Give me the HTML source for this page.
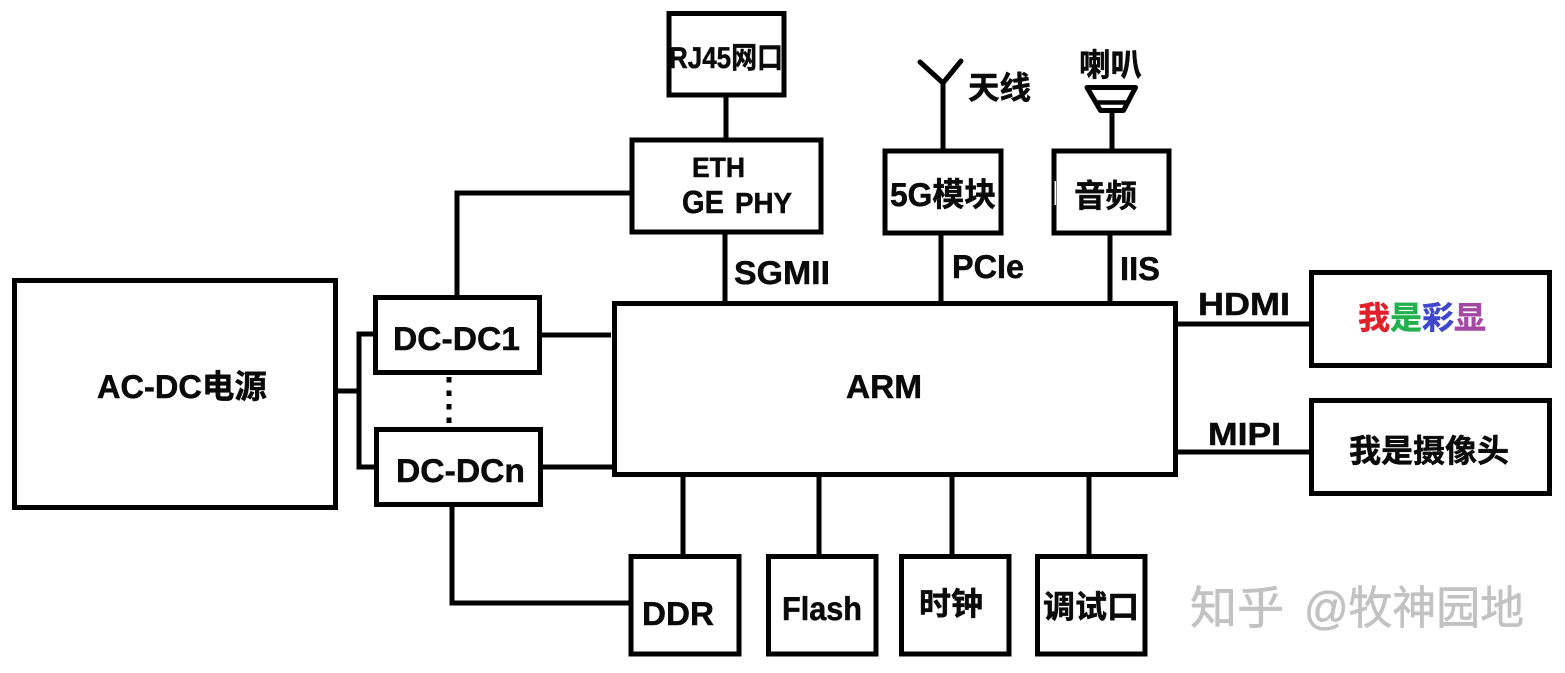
<!DOCTYPE html>
<html><head><meta charset="utf-8"><style>
html,body{margin:0;padding:0;background:#fff;width:1565px;height:673px;overflow:hidden}
svg{display:block}
text{font-family:"Liberation Sans","Noto Sans CJK SC",sans-serif;font-weight:700;fill:#0a0a0a;stroke:#0a0a0a;stroke-width:.5;text-rendering:geometricPrecision}
.b{fill:none;stroke:#000;stroke-width:5}
.l{fill:none;stroke:#000;stroke-width:5}
</style></head><body>
<svg width="1565" height="673" viewBox="0 0 1565 673" xmlns="http://www.w3.org/2000/svg">
<rect width="1565" height="673" fill="#fff"/>
<rect class="b" x="14.500" y="280.500" width="321" height="227"/>
<rect class="b" x="375.500" y="297.500" width="164" height="75"/>
<rect class="b" x="376.500" y="429.500" width="164" height="75"/>
<rect class="b" x="614.500" y="303.500" width="561" height="171"/>
<rect class="b" x="669" y="13.500" width="115" height="81.500"/>
<rect class="b" x="632" y="140" width="189" height="92"/>
<rect class="b" x="885" y="151" width="116" height="82"/>
<rect class="b" x="1054" y="151" width="115" height="82"/>
<rect x="1054.500" y="181" width="1.500" height="24" fill="#fff"/>
<rect class="b" x="1311.500" y="272.500" width="238" height="93"/>
<rect class="b" x="1311.500" y="400.500" width="238" height="93"/>
<rect class="b" x="631" y="556.500" width="108" height="97.500"/>
<rect class="b" x="768.500" y="556.500" width="107.500" height="97.500"/>
<rect class="b" x="901.500" y="556.500" width="107.500" height="97.500"/>
<rect class="b" x="1037.500" y="556.500" width="107.500" height="97.500"/>
<path class="l" d="M335 391H359M375 334H359V467H375"/>
<path class="l" d="M457 297V193H631"/>
<path class="l" d="M452 505V603H630"/>
<path class="l" d="M542 335H611M543 467H613"/>
<path d="M449 377V424" fill="none" stroke="#000" stroke-width="5" stroke-dasharray="5.500 8"/>
<path class="l" d="M726 96V139M725 233V303M941 234V303M1110 234V303"/>
<path class="l" d="M1176 324H1310M1176 452H1310"/>
<path class="l" d="M683 476V555M819 476V555M952 476V555M1089 476V555"/>
<path class="l" d="M920 62L943 83L961 61M943 83V150" stroke-linecap="round" stroke-linejoin="miter"/>
<path d="M1087 87.500H1135.500L1123.500 110.500H1100.500Z" fill="none" stroke="#000" stroke-width="5" stroke-linejoin="round"/>
<path d="M1096 102.500H1128" fill="none" stroke="#000" stroke-width="4.500"/>
<path class="l" d="M1112 111V150"/>

<text x="97" y="398" font-size="33" textLength="170" lengthAdjust="spacingAndGlyphs">AC-DC电源</text>
<text x="846" y="398" font-size="33" textLength="76" lengthAdjust="spacingAndGlyphs">ARM</text>
<text x="393" y="350" font-size="33" textLength="127" lengthAdjust="spacingAndGlyphs">DC-DC1</text>
<text x="396" y="482" font-size="33" textLength="129" lengthAdjust="spacingAndGlyphs">DC-DCn</text>
<text x="669" y="68" font-size="30" textLength="114" lengthAdjust="spacingAndGlyphs">RJ45网口</text>
<text x="692" y="177" font-size="28" textLength="53" lengthAdjust="spacingAndGlyphs">ETH</text>
<text x="682" y="213" font-size="32" textLength="42" lengthAdjust="spacingAndGlyphs">GE</text>
<text x="735" y="213" font-size="29" textLength="57" lengthAdjust="spacingAndGlyphs">PHY</text>
<text x="890" y="206" font-size="33" textLength="106" lengthAdjust="spacingAndGlyphs">5G模块</text>
<text x="1074" y="207" font-size="32" textLength="63" lengthAdjust="spacingAndGlyphs">音频</text>
<text x="968" y="99" font-size="32" textLength="63" lengthAdjust="spacingAndGlyphs">天线</text>
<text x="1079" y="76" font-size="32" textLength="63" lengthAdjust="spacingAndGlyphs">喇叭</text>
<text x="734" y="284" font-size="33" textLength="96" lengthAdjust="spacingAndGlyphs">SGMII</text>
<text x="952" y="278" font-size="33" textLength="72" lengthAdjust="spacingAndGlyphs">PCIe</text>
<text x="1120" y="280" font-size="33" textLength="40" lengthAdjust="spacingAndGlyphs">IIS</text>
<text x="1198" y="315" font-size="32" textLength="92" lengthAdjust="spacingAndGlyphs">HDMI</text>
<text x="1208" y="445" font-size="32" textLength="73" lengthAdjust="spacingAndGlyphs">MIPI</text>
<text x="1358" y="329" font-size="32" style="fill:#e0202a;stroke:#e0202a">我</text>
<text x="1390" y="329" font-size="32" style="fill:#22b14c;stroke:#22b14c">是</text>
<text x="1422" y="329" font-size="32" style="fill:#3f48cc;stroke:#3f48cc">彩</text>
<text x="1454" y="329" font-size="32" style="fill:#a349a4;stroke:#a349a4">显</text>
<text x="1349" y="462" font-size="32" textLength="160" lengthAdjust="spacingAndGlyphs">我是摄像头</text>
<text x="642" y="625" font-size="33" textLength="72" lengthAdjust="spacingAndGlyphs">DDR</text>
<text x="782" y="620" font-size="33" textLength="80" lengthAdjust="spacingAndGlyphs">Flash</text>
<text x="919" y="615" font-size="32" textLength="64" lengthAdjust="spacingAndGlyphs">时钟</text>
<text x="1043" y="618" font-size="32" textLength="96" lengthAdjust="spacingAndGlyphs">调试口</text>
<text x="1190" y="624" font-size="46" textLength="94" lengthAdjust="spacingAndGlyphs" style="fill:#c2c2c2;stroke:#c2c2c2;stroke-width:.6;font-weight:400">知乎</text>
<text x="1304" y="624" font-size="46" textLength="220" lengthAdjust="spacingAndGlyphs" style="fill:#c2c2c2;stroke:#c2c2c2;stroke-width:.6;font-weight:400">@牧神园地</text>
</svg>
</body></html>
